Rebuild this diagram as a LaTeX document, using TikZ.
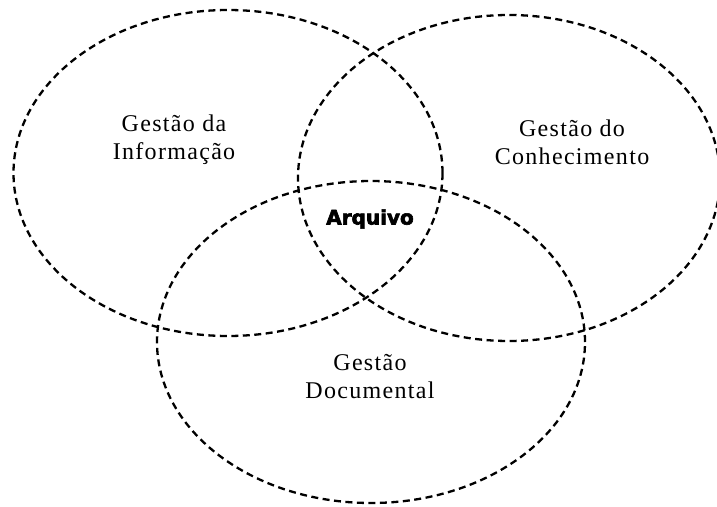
\documentclass[tikz,border=0pt]{standalone}
\usepackage{fontspec}
\usetikzlibrary{shapes.geometric}
\setmainfont{Liberation Serif}[LetterSpace=5.5]
\newfontfamily\heavyfont{DejaVu Sans}[FakeBold=3]
\begin{document}
\begin{tikzpicture}[x=1pt,y=-1pt,
  setcircle/.style={ellipse, draw=black, line width=2.3pt, dash pattern=on 7pt off 4.5pt, inner sep=0pt, minimum width=#1},
  labeltext/.style={align=center, font=\fontsize{24}{28}\selectfont, inner sep=0pt},
  centertext/.style={font=\heavyfont\bfseries\fontsize{20}{22}\selectfont, inner sep=0pt}]
\useasboundingbox (0,0) rectangle (717,506);
\node[setcircle=429pt, minimum height=326pt] (info) at (228,173) {};
\node[setcircle=422pt, minimum height=326pt] (conh) at (509,178) {};
\node[setcircle=428pt, minimum height=322pt] (doc) at (371,342) {};
\node[labeltext] (tinfo) at (174,140) {Gestão da\\Informação};
\node[labeltext] (tconh) at (572,142) {Gestão do\\Conhecimento};
\node[labeltext] (tdoc) at (370,377) {Gestão\\Documental};
\node[centertext] (arq) at (370,219) {Arquivo};
\end{tikzpicture}
\end{document}
